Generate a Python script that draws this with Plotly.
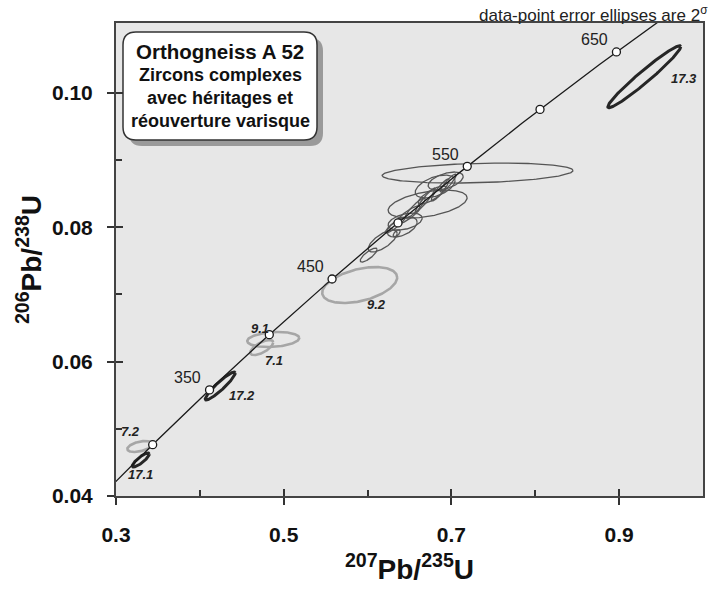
import numpy as np
import plotly.graph_objects as go

# ---------------- data ----------------
# concordia ages (Ma) with markers, and labelled ages
concordia_marker_ages = [300, 350, 400, 450, 500, 550, 600, 650]
labelled_ages = [350, 450, 550, 650]
curve_age_start, curve_age_end = 255, 720

# decay constants (1/yr)
LAMBDA_238 = 1.55125e-10
LAMBDA_235 = 9.8485e-10

# error ellipses: 207Pb/235U centre, 206Pb/238U centre, half-extents (2 sigma), rho
ell_names = ["17.3", "17.2", "17.1", "9.2", "9.1", "7.1", "7.2",
             "", "", "", "", "", "", "", "", "", "", "", "", "", "", "", ""]
ell_x = [0.930, 0.4243, 0.3296, 0.5906, 0.4875, 0.4738, 0.3284,
         0.7312, 0.6716, 0.6806, 0.6931, 0.6448, 0.6412, 0.6180, 0.6013,
         0.6687, 0.6866, 0.6569, 0.6484, 0.6962, 0.6770, 0.6329, 0.6347]
ell_y = [0.1024, 0.05637, 0.04536, 0.0714, 0.06329, 0.0621, 0.04737,
         0.08807, 0.08345, 0.08606, 0.08688, 0.08085, 0.08003, 0.07795, 0.07586,
         0.08405, 0.08554, 0.08286, 0.08182, 0.08658, 0.0848, 0.08033, 0.0791]
ell_sx = [0.0435, 0.0179, 0.0101, 0.0447, 0.031, 0.0137, 0.0149,
          0.1138, 0.0471, 0.0238, 0.0209, 0.0203, 0.0179, 0.0173, 0.0101,
          0.0119, 0.0107, 0.0119, 0.0143, 0.0095, 0.0167, 0.0119, 0.0042]
ell_sy = [0.00461, 0.00208, 0.00104, 0.00268, 0.00112, 0.00112, 0.00082,
          0.00149, 0.00208, 0.00171, 0.00134, 0.00126, 0.00149, 0.00164, 0.00104,
          0.00179, 0.00164, 0.00149, 0.00134, 0.00134, 0.00134, 0.00119, 0.00052]
ell_rho = [0.97, 0.93, 0.85, 0.42, 0.2, 0.67, 0.45,
           0.25, 0.45, 0.5, 0.5, 0.4, 0.5, 0.7, 0.8,
           0.95, 0.9, 0.9, 0.85, 0.9, 0.8, 0.9, 0.6]
ell_group = ["dark", "dark", "dark", "light", "light", "light", "light",
             "mid", "mid", "mid", "mid", "mid", "mid", "mid", "mid",
             "mid", "mid", "mid", "mid", "mid", "mid", "mid", "mid"]

x_tick_vals = [0.3, 0.5, 0.7, 0.9]
x_tick_text = ["0.3", "0.5", "0.7", "0.9"]
x_minor_vals = [0.4, 0.6, 0.8]
y_tick_vals = [0.04, 0.06, 0.08, 0.10]
y_tick_text = ["0.04", "0.06", "0.08", "0.10"]
y_minor_vals = [0.05, 0.07, 0.09]

box_lines = ["Orthogneiss A 52", "Zircons complexes", "avec héritages et", "réouverture varisque"]
note_text = "data-point error ellipses are 2<sup>σ</sup>"

# ---------------- styles ----------------
W, H = 717, 592
ML, MR, MT, MB = 116, 14, 23, 96
X_RANGE = [0.3, 1.0]
Y_RANGE = [0.04, 0.1104]
FONT = "Liberation Sans, Arial, sans-serif"
styles = {
    "dark": dict(color="#262626", width=3.0),
    "light": dict(color="#a6a6a6", width=2.6),
    "mid": dict(color="#555555", width=1.3),
}
# label offsets (px) relative to ellipse centres
ell_label_shift = {
    "17.3": (40, -2), "9.2": (17, -19), "9.1": (-13, 11), "7.1": (12, -13),
    "17.2": (22, -9), "7.2": (-9, 15), "17.1": (0, -15),
}
PW, PH = W - ML - MR, H - MT - MB


def px2pap(px, py):
    return (px - ML) / PW, (H - MB - py) / PH


def conc(t_ma):
    t = np.asarray(t_ma, dtype=float) * 1e6
    return np.exp(LAMBDA_235 * t) - 1, np.exp(LAMBDA_238 * t) - 1


fig = go.Figure()

# ellipses
theta = np.linspace(0, 2 * np.pi, 181)
for i in range(len(ell_x)):
    r = ell_rho[i]
    ex = ell_x[i] + ell_sx[i] * np.cos(theta)
    ey = ell_y[i] + ell_sy[i] * (r * np.cos(theta) + np.sqrt(1 - r * r) * np.sin(theta))
    fig.add_trace(go.Scatter(x=ex, y=ey, mode="lines", line=styles[ell_group[i]],
                             hoverinfo="skip", showlegend=False))

# concordia curve
ages_curve = np.linspace(curve_age_start, curve_age_end, 300)
cx, cy = conc(ages_curve)
fig.add_trace(go.Scatter(x=cx, y=cy, mode="lines", line=dict(color="#1a1a1a", width=1.3),
                         hoverinfo="skip", showlegend=False))
mx, my = conc(concordia_marker_ages)
fig.add_trace(go.Scatter(x=mx, y=my, mode="markers",
                         marker=dict(size=8, color="white", line=dict(color="#1a1a1a", width=1.3)),
                         hoverinfo="skip", showlegend=False))

# invisible trace for overlay axes (inside ticks)
fig.add_trace(go.Scatter(x=[None], y=[None], xaxis="x2", yaxis="y2", showlegend=False))

annotations = []
lx, ly = conc(labelled_ages)
for a, xx, yy in zip(labelled_ages, lx, ly):
    annotations.append(dict(x=xx, y=yy, text=str(a), showarrow=False, xshift=-22, yshift=12,
                            font=dict(family=FONT, size=16, color="#222")))
for i, n in enumerate(ell_names):
    if n:
        dx, dy = ell_label_shift[n]
        annotations.append(dict(x=ell_x[i], y=ell_y[i], text=f"<b><i>{n}</i></b>", showarrow=False,
                                xshift=dx, yshift=dy, font=dict(family=FONT, size=13, color="#222")))

# text box
bx0, by0, bx1, by1, rad = 123, 32, 317, 140, 13


def rounded_path(x0, y0, x1, y1, r):
    def P(px, py):
        a, b = px2pap(px, py)
        return f"{a:.5f},{b:.5f}"
    return (f"M {P(x0 + r, y0)} L {P(x1 - r, y0)} Q {P(x1, y0)} {P(x1, y0 + r)} "
            f"L {P(x1, y1 - r)} Q {P(x1, y1)} {P(x1 - r, y1)} L {P(x0 + r, y1)} "
            f"Q {P(x0, y1)} {P(x0, y1 - r)} L {P(x0, y0 + r)} Q {P(x0, y0)} {P(x0 + r, y0)} Z")


shapes = [
    dict(type="path", xref="paper", yref="paper", path=rounded_path(bx0 + 6, by0 + 6, bx1 + 6, by1 + 6, rad),
         fillcolor="#9a9a9a", line=dict(width=0), layer="above"),
    dict(type="path", xref="paper", yref="paper", path=rounded_path(bx0, by0, bx1, by1, rad),
         fillcolor="white", line=dict(color="#333", width=1.5), layer="above"),
]
line_py = [51, 75, 98, 121]
line_sz = [20.5, 18, 18, 18]
cxp = (bx0 + bx1) / 2
for t, py, s in zip(box_lines, line_py, line_sz):
    ax_, ay_ = px2pap(cxp, py)
    annotations.append(dict(xref="paper", yref="paper", x=ax_, y=ay_, text=f"<b>{t}</b>",
                            showarrow=False, xanchor="center", yanchor="middle",
                            font=dict(family=FONT, size=s, color="#111")))
nx, ny = px2pap(710, 14)
annotations.append(dict(xref="paper", yref="paper", x=nx, y=ny, text=note_text, showarrow=False,
                        xanchor="right", yanchor="middle", font=dict(family=FONT, size=17, color="#222")))

tick_font = dict(family=FONT, size=21, color="#111")
title_font = dict(family="Liberation Sans Narrow, " + FONT, size=28, color="#111")

fig.update_layout(
    width=W, height=H, margin=dict(l=ML, r=MR, t=MT, b=MB),
    paper_bgcolor="white", plot_bgcolor="#e7e7e7",
    showlegend=False, shapes=shapes, annotations=annotations,
    xaxis=dict(range=X_RANGE, tickvals=x_tick_vals, ticktext=[f"<b>{t}</b>" for t in x_tick_text],
               ticks="outside", ticklen=7, tickwidth=1.5, tickcolor="#333",
               minor=dict(tickvals=x_minor_vals, ticks="inside", ticklen=6, tickwidth=1.5, tickcolor="#333"),
               showline=True, mirror=True, linecolor="#444", linewidth=2,
               showgrid=False, zeroline=False, tickfont=tick_font, ticklabelstandoff=12,
               title=dict(text="<b><sup>207</sup>Pb/<sup>235</sup>U</b>", font=title_font, standoff=14)),
    yaxis=dict(range=Y_RANGE, tickvals=y_tick_vals, ticktext=[f"<b>{t}</b>" for t in y_tick_text],
               ticks="outside", ticklen=7, tickwidth=1.5, tickcolor="#333",
               minor=dict(tickvals=y_minor_vals, ticks="inside", ticklen=6, tickwidth=1.5, tickcolor="#333"),
               showline=True, mirror=True, linecolor="#444", linewidth=2,
               showgrid=False, zeroline=False, tickfont=tick_font, ticklabelstandoff=10,
               title=dict(text="<b><sup>206</sup>Pb/<sup>238</sup>U</b>", font=title_font, standoff=2)),
    xaxis2=dict(range=X_RANGE, overlaying="x", anchor="y2", side="bottom", tickvals=x_tick_vals,
                ticks="inside", ticklen=7, tickwidth=1.5, tickcolor="#333", showticklabels=False,
                showline=False, showgrid=False, zeroline=False),
    yaxis2=dict(range=Y_RANGE, overlaying="y", anchor="x2", side="left", tickvals=y_tick_vals,
                ticks="inside", ticklen=7, tickwidth=1.5, tickcolor="#333", showticklabels=False,
                showline=False, showgrid=False, zeroline=False),
)

fig.write_html("out.html")
